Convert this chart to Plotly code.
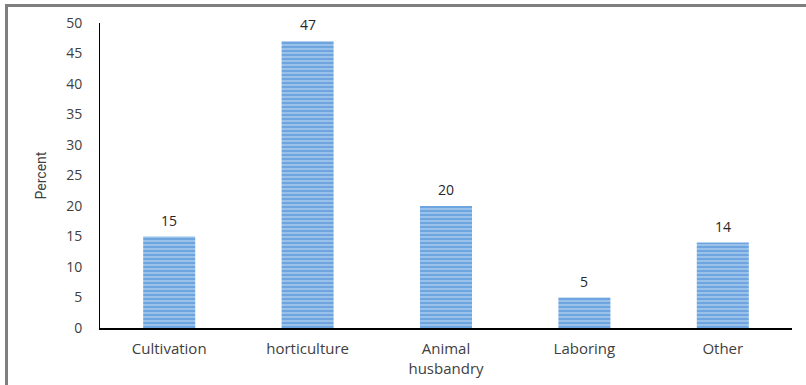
import plotly.graph_objects as go

# Main occupation shares (percent)
categories = ["Cultivation", "horticulture", "Animal<br>husbandry", "Laboring", "Other"]
values = [15, 47, 20, 5, 14]
y_ticks = [0, 5, 10, 15, 20, 25, 30, 35, 40, 45, 50]

W, H = 806, 385
L, R, T, B = 100, 14, 23, 57
plot_w = W - L - R
plot_h = H - T - B

TXT = "#404040"
FONT = "Open Sans"

fig = go.Figure()
fig.add_trace(go.Bar(
    x=categories,
    y=values,
    marker=dict(
        color="#74a9e2",
        line=dict(width=0),
        pattern=dict(shape="-", fgcolor="#c6ddf5", bgcolor="#6fa5df",
                     size=4, solidity=0.5, fillmode="overlay"),
    ),
    width=0.376,
    hoverinfo="skip",
))

# Value labels above each bar
for c, v in zip(categories, values):
    fig.add_annotation(x=c, y=v, text=str(v), showarrow=False,
                       yanchor="bottom", yshift=5,
                       font=dict(family=FONT, size=14, color="#262626"))


def px_x(p):
    return (p - L) / plot_w


def px_y(p):
    return (H - B - p) / plot_h


# Gray frame around the chart
fig.add_shape(type="path", xref="paper", yref="paper",
              path=f"M {px_x(6.5)} {px_y(395)} L {px_x(6.5)} {px_y(5.5)} L {px_x(812)} {px_y(5.5)}",
              line=dict(color="#7f7f7f", width=3))

fig.update_layout(
    width=W, height=H,
    margin=dict(l=L, r=R, t=T, b=B),
    paper_bgcolor="white", plot_bgcolor="white",
    showlegend=False,
    font=dict(family=FONT, size=14, color=TXT),
    xaxis=dict(
        showline=True, linecolor="black", linewidth=2,
        showgrid=False, ticks="", zeroline=False, automargin=False,
        ticklabelstandoff=6,
        tickfont=dict(family=FONT, size=15, color=TXT),
    ),
    yaxis=dict(
        range=[0, 50], tickvals=y_ticks, showline=True, linecolor="black",
        linewidth=1, showgrid=False, zeroline=False, ticks="", automargin=False,
        ticklabelstandoff=14,
        tickfont=dict(family=FONT, size=14, color=TXT),
        title=dict(text="Percent", standoff=16,
                   font=dict(family="Liberation Sans Narrow, Roboto", size=14, color=TXT)),
    ),
)

fig.write_html("out.html")
